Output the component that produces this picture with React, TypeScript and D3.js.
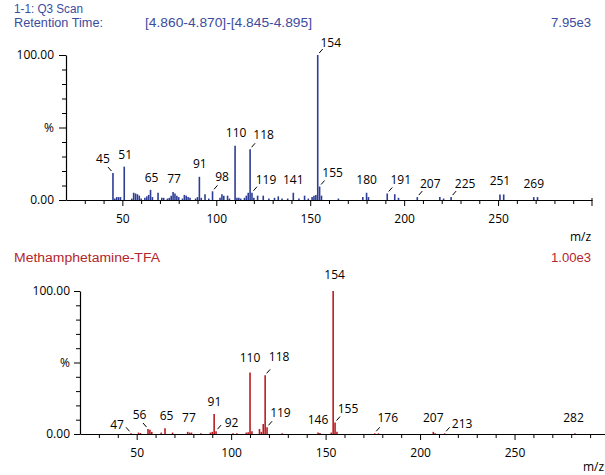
import React, { useEffect, useRef } from 'react';
import * as d3 from 'd3';

// scan spectrum (top), relative intensity in %
const scanMz = [45, 46, 47, 48, 49, 51, 55, 56, 57, 58, 59, 60, 62, 63, 64, 65, 66, 69, 71, 72, 74, 75, 76, 77, 78, 79, 80, 82, 83, 84, 85, 86, 89, 90, 91, 92, 94, 96, 98, 102, 103, 104, 106, 107, 110, 111, 112, 113, 115, 116, 117, 118, 119, 120, 122, 125, 128, 131, 133, 135, 138, 141, 144, 147, 149, 151, 152, 153, 154, 155, 156, 165, 178, 180, 181, 191, 195, 197, 207, 219, 221, 225, 251, 253, 269, 271];
const scanPct = [18.6, 1, 2, 2, 2, 23, 1, 5, 4.5, 4, 3, 1, 1.5, 2.5, 3.5, 7, 2, 5, 1.5, 1.5, 1, 1.5, 3, 5.5, 4.5, 3, 2, 1, 3.5, 3, 2, 1.5, 1, 2, 16, 1.5, 4, 1, 6, 1.5, 4, 3, 3, 1, 37.4, 1.5, 1.5, 1, 1.5, 3, 5, 35, 5, 1.5, 3, 3, 1, 1.5, 2.5, 1, 1, 5, 1, 3, 1, 2, 3, 3.5, 100, 9.3, 3, 1, 2, 5, 2, 4.5, 4, 1.5, 2, 2, 1, 2, 3.8, 3.8, 2, 2];
const scanLabels = [45, 51, 65, 77, 91, 98, 110, 118, 119, 141, 154, 155, 180, 191, 207, 225, 251, 269];

// library spectrum (bottom)
const libMz = [47, 51, 52, 56, 57, 58, 63, 65, 69, 77, 78, 79, 84, 89, 90, 91, 92, 101, 103, 108, 109, 110, 111, 115, 116, 117, 118, 119, 127, 146, 147, 153, 154, 155, 156, 176, 178, 207, 208, 213, 282];
const libPct = [0.5, 1, 0.7, 3.5, 3, 1.5, 1, 4, 1, 1.5, 1, 1, 0.5, 1, 1.5, 14, 2, 0.5, 0.5, 1, 1.2, 43, 2, 3.5, 1.5, 7, 41, 4.7, 0.5, 1, 0.7, 1, 100, 8, 1.5, 0.5, 0.5, 1.5, 0.5, 0.5, 0.5];
const libLabels = [47, 56, 65, 77, 91, 92, 110, 118, 119, 146, 154, 155, 176, 207, 213, 282];

const xTicks = [50, 100, 150, 200, 250];
const yTickText = ['0.00', '%', '100.00'];

// where each peak label sits relative to the top of its peak (px)
const scanNudge = {
    45: [-10, -10], 51: [1, -8], 65: [1, -8], 77: [1, -9.5], 91: [0.5, -8.5], 98: [9.5, -10],
    110: [1, -8.5], 118: [13.5, -10.5], 119: [14, -8.5], 141: [0, -8.5], 154: [13, -8], 155: [13, -10],
    180: [0, -8.5], 191: [13.5, -9], 207: [13, -9], 225: [14, -9], 251: [0, -9.5], 269: [0, -9],
};
const libNudge = {
    47: [-14, -4.5], 56: [-8.5, -10], 65: [1.5, -8.3], 77: [1.3, -9.6], 91: [0.3, -8.3], 92: [15.5, -3.7],
    110: [0, -11], 118: [14, -14], 119: [13.4, -10], 146: [0, -8.6], 154: [1.5, -12], 155: [13, -9.3],
    176: [13, -11], 207: [0, -9.6], 213: [17.5, -5], 282: [-1.5, -11],
};

const FONT = '"Open Sans", sans-serif';
const HEAD_FONT = '"Liberation Sans", Arial, sans-serif';

const drawPanel = (svg, o) => {
    const x = d3.scaleLinear().domain([20, 300]).range([o.left, o.right]);
    const y = d3.scaleLinear().domain([0, 100]).range([o.bottom, o.top]);
    const g = svg.append('g');

    // bars
    g.append('g')
        .selectAll('line')
        .data(d3.zip(o.mz, o.pct))
        .join('line')
        .attr('x1', d => x(d[0]))
        .attr('x2', d => x(d[0]))
        .attr('y1', y(0))
        .attr('y2', d => y(d[1]))
        .attr('stroke', o.color)
        .attr('stroke-width', 1.6);

    // x axis
    const xa = g.append('g').attr('transform', `translate(0,${y(0)})`);
    xa.call(d3.axisBottom(x).tickValues(xTicks).tickSize(6).tickSizeOuter(0).tickPadding(8));
    const minor = d3.range(30, 300, 10).filter(v => v % 50 !== 0);
    const xm = g.append('g').attr('transform', `translate(0,${y(0)})`)
        .call(d3.axisBottom(x).tickValues(minor).tickSize(4).tickFormat(() => ''));
    xm.select('.domain').remove();
    xa.append('line').attr('x1', x(300)).attr('x2', x(300)).attr('y1', -2).attr('y2', 6).attr('stroke', '#000');

    // y axis
    const ya = g.append('g').attr('transform', `translate(${x(20)},0)`);
    ya.call(d3.axisLeft(y).tickValues([0, 50, 100]).tickSize(o.ytick).tickSizeOuter(0).tickPadding(o.ypad)
        .tickFormat((d, i) => yTickText[i]));
    const ym = g.append('g').attr('transform', `translate(${x(20)},0)`)
        .call(d3.axisLeft(y).tickValues([10, 20, 30, 40, 60, 70, 80, 90]).tickSize(4).tickFormat(() => ''));
    ym.select('.domain').remove();

    g.selectAll('.tick text').attr('font-family', FONT).attr('font-size', 12).attr('fill', '#000');
    g.selectAll('.domain').attr('stroke-width', 1.2);

    // peak labels
    const byMz = new Map(d3.zip(o.mz, o.pct));
    o.labels.forEach(m => {
        const px = x(m);
        const py = y(byMz.get(m));
        const [dx, dy] = o.nudge[m];
        g.append('text')
            .attr('x', px + dx)
            .attr('y', py + dy)
            .attr('text-anchor', 'middle')
            .attr('font-family', FONT)
            .attr('font-size', 12)
            .text(m);
        if (Math.abs(dx) > 5) {
            const s = Math.sign(dx);
            g.append('line')
                .attr('x1', px + s * 1.5).attr('y1', py - 2)
                .attr('x2', px + s * 5).attr('y2', py - 6)
                .attr('stroke', '#000').attr('stroke-width', 1);
        }
    });

    g.append('text')
        .attr('x', o.mzX).attr('y', o.mzY)
        .attr('font-family', FONT).attr('font-size', 12)
        .text('m/z');
};

export default function App() {
    const svgRef = useRef(null);

    useEffect(() => {
        const svg = d3.select(svgRef.current);
        svg.selectAll('*').remove();

        const blue = '#3b4c9e';
        const red = '#b3262c';

        // headers
        const head = (t, xx, yy, c, w, anchor = 'start') =>
            svg.append('text').attr('x', xx).attr('y', yy).attr('fill', c)
                .attr('font-family', HEAD_FONT).attr('font-size', 12).attr('text-anchor', anchor)
                .attr('textLength', w).attr('lengthAdjust', 'spacingAndGlyphs').text(t);
        head('1-1: Q3 Scan', 14, 12.5, blue, 69);
        head('Retention Time:', 14, 26.5, blue, 89);
        head('[4.860-4.870]-[4.845-4.895]', 145, 26.5, blue, 167);
        head('7.95e3', 591, 26.5, blue, 40, 'end');
        head('Methamphetamine-TFA', 14, 262, red, 146);
        head('1.00e3', 591, 262, red, 40, 'end');

        drawPanel(svg, {
            mz: scanMz, pct: scanPct, labels: scanLabels, nudge: scanNudge,
            left: 66, right: 592, top: 55, bottom: 200, color: '#2d3d94',
            ytick: 7, ypad: 5, mzX: 570, mzY: 241,
        });
        drawPanel(svg, {
            mz: libMz, pct: libPct, labels: libLabels, nudge: libNudge,
            left: 80, right: 609, top: 291, bottom: 434, color: '#b81c22',
            ytick: 6, ypad: 4, mzX: 583, mzY: 471,
        });
    }, []);

    return (
        <svg ref={svgRef} width={605} height={475}
            style={{ position: 'absolute', left: 0, top: 0, background: '#fff' }} />
    );
}
